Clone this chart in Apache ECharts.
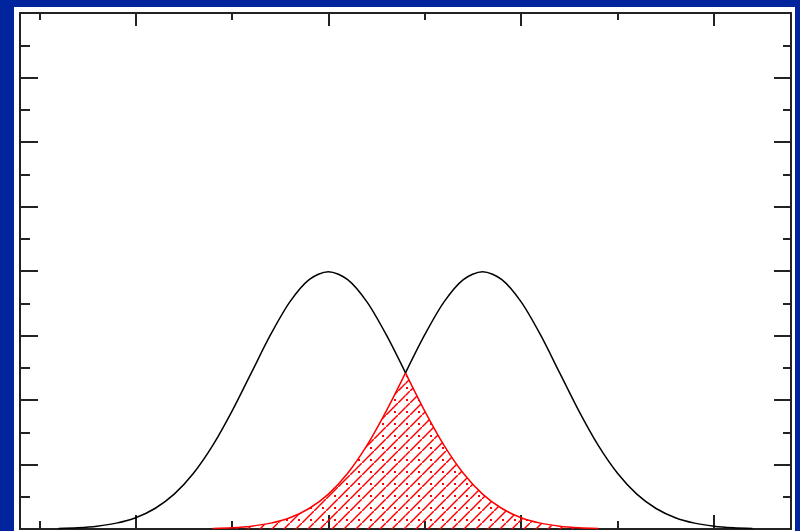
<!DOCTYPE html>
<html><head><meta charset="utf-8">
<script src="https://cdn.jsdelivr.net/npm/echarts@6/dist/echarts.min.js"></script>
<style>
html,body{margin:0;padding:0;background:#00249e;width:800px;height:531px;overflow:hidden}
#c{position:absolute;left:14px;top:7px;width:781px;height:524px;background:#fff}
</style></head><body><div id="c"></div>
<script>
// Left distribution (black part, up to the crossing)
const leftX = [0.2,0.4,0.6,0.8,1.0,1.2,1.4,1.6,1.8,2.0,2.2,2.4,2.6,2.8,3.0,3.2,3.4,3.6,3.8];
const leftY = [0.0009,0.0020,0.0044,0.0091,0.0175,0.0318,0.0540,0.0863,0.1295,0.1827,0.2420,0.3012,0.3521,0.3867,0.3990,0.3867,0.3521,0.3012,0.2420];
// Right distribution (black part, from the crossing)
const rightX = [3.8,4.0,4.2,4.4,4.6,4.8,5.0,5.2,5.4,5.6,5.8,6.0,6.2,6.4,6.6,6.8,7.0,7.2,7.4];
const rightY = [0.2420,0.3012,0.3521,0.3867,0.3990,0.3867,0.3521,0.3012,0.2420,0.1827,0.1295,0.0863,0.0540,0.0318,0.0175,0.0091,0.0044,0.0020,0.0009];
// Overlap region (red), left half = tail of right curve, right half = tail of left curve
const overlapLeftX = [1.8,2.0,2.2,2.4,2.6,2.8,3.0,3.2,3.4,3.6,3.8];
const overlapLeftY = [0.0009,0.0020,0.0044,0.0091,0.0175,0.0318,0.0540,0.0863,0.1295,0.1827,0.2420];
const overlapRightX = [3.8,4.0,4.2,4.4,4.6,4.8,5.0,5.2,5.4,5.6,5.8];
const overlapRightY = [0.2420,0.1827,0.1295,0.0863,0.0540,0.0318,0.0175,0.0091,0.0044,0.0020,0.0009];
// Axis ticks
const xLongTicks = [1,3,5,7];
const xShortTicks = [0,2,4,6];
const xMin = -0.2, xMax = 7.8;
const yMin = 0, yMax = 0.8, yStep = 0.1;

const pc = document.createElement('canvas'); pc.width = 12; pc.height = 12;
const g = pc.getContext('2d');
g.strokeStyle = '#ff0000'; g.lineWidth = 1.5;
g.beginPath(); g.moveTo(0, 12); g.lineTo(12, 0); g.stroke();
g.fillStyle = '#ff0000'; g.fillRect(8, 8, 2, 2);

const pairs = (xs, ys) => xs.map((x, i) => [x, ys[i]]);
const axisCol = '#222';
function xAx(pos, ticks, len, showLine) {
  return {
    type: 'value', position: pos, min: xMin, max: xMax,
    axisLine: { show: showLine, onZero: false, lineStyle: { color: axisCol, width: 2 } },
    axisTick: { show: true, inside: true, length: len, customValues: ticks, lineStyle: { color: axisCol, width: 2 } },
    axisLabel: { show: false }, splitLine: { show: false }
  };
}
function yAx(pos, len, minorLen) {
  return {
    type: 'value', position: pos, min: yMin, max: yMax, interval: yStep,
    axisLine: { show: true, onZero: false, lineStyle: { color: axisCol, width: 2 } },
    axisTick: { show: true, inside: true, length: len, lineStyle: { color: axisCol, width: 2 } },
    minorTick: { show: true, splitNumber: 2, length: minorLen, lineStyle: { color: axisCol, width: 2 } },
    axisLabel: { show: false }, splitLine: { show: false }, minorSplitLine: { show: false }
  };
}
const chart = echarts.init(document.getElementById('c'), null, { renderer: 'canvas' });
const redArea = { color: { image: pc, repeat: 'repeat' }, opacity: 1 };
chart.setOption({
  animation: false,
  backgroundColor: '#fff',
  grid: { left: 6, right: 4, top: 6, bottom: 2, containLabel: false },
  xAxis: [
    xAx('bottom', xLongTicks, 14, true),
    xAx('bottom', xShortTicks, 8, false),
    xAx('top', xLongTicks, 13, true),
    xAx('top', xShortTicks, 7, false)
  ],
  yAxis: [ yAx('left', 18, 10), yAx('right', 17, 8) ],
  series: [
    { type: 'line', data: pairs(overlapLeftX, overlapLeftY), smooth: 0.3, symbol: 'none',
      lineStyle: { color: '#ff0000', width: 1.5 }, areaStyle: redArea },
    { type: 'line', data: pairs(overlapRightX, overlapRightY), smooth: 0.3, symbol: 'none',
      lineStyle: { color: '#ff0000', width: 1.5 }, areaStyle: redArea },
    { type: 'line', data: pairs(leftX, leftY), smooth: 0.3, symbol: 'none',
      lineStyle: { color: '#000', width: 1.5 } },
    { type: 'line', data: pairs(rightX, rightY), smooth: 0.3, symbol: 'none',
      lineStyle: { color: '#000', width: 1.5 } }
  ]
});
</script></body></html>
